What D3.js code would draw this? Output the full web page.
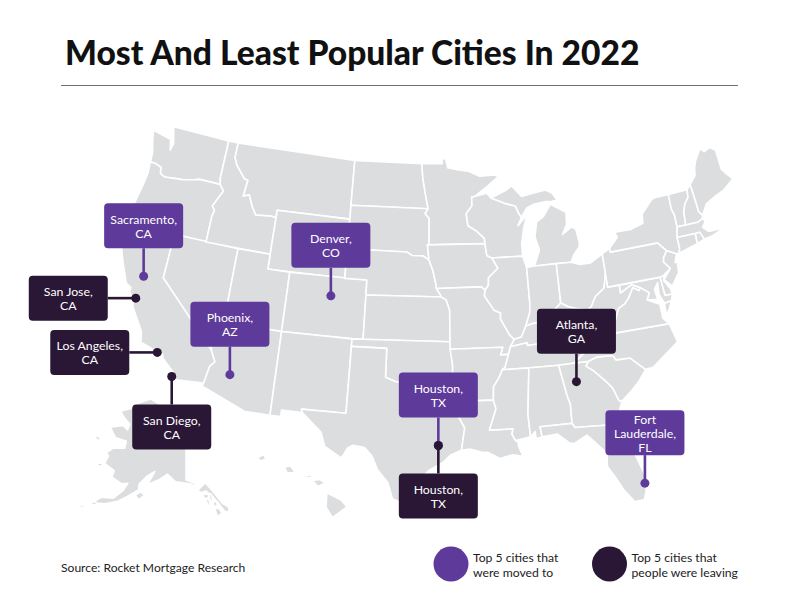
<!DOCTYPE html>
<html>
<head>
<meta charset="utf-8">
<script src="https://d3js.org/d3.v7.min.js"></script>
<style>
  body { margin: 0; background: #fff; }
  text { font-family: Lato, "Noto Sans", sans-serif; }
</style>
</head>
<body>
<div id="div_chart"></div>
<script>
// cities shown on the map
const cities = ["Sacramento,\nCA", "San Jose,\nCA", "Los Angeles,\nCA", "San Diego,\nCA", "Phoenix,\nAZ",
  "Denver,\nCO", "Houston,\nTX", "Houston,\nTX", "Atlanta,\nGA", "Fort\nLauderdale,\nFL"];
const cityLon = [-121.7, -121.85, -118.95, -117.35, -112.75, -105.15, -95.65, -95.65, -84.3, -80.15];
const cityLat = [38.75, 37.2, 34.05, 32.7, 33.6, 39.75, 30.05, 30.05, 33.75, 26.3];
const cityGroup = ["to", "from", "from", "from", "to", "to", "to", "from", "from", "to"];
const citySide = ["above", "left", "left", "below", "above", "above", "above", "below", "above", "above"];

// legend
const legendGroups = ["to", "from"];
const legendLines = [["Top 5 cities that", "were moved to"], ["Top 5 cities that", "people were leaving"]];

// state borders that are shared, [lon, lat]
const stCroix = [[-92.01,46.71],[-92.29,46.66],[-92.29,46.1],[-92.88,45.57],[-92.75,44.75]];
const mWiMn = [[-92.75,44.75],[-92.0,44.4],[-91.25,43.85],[-91.22,43.5]];
const mWiIa = [[-91.22,43.5],[-91.1,42.7],[-90.64,42.51]];
const mIlIa = [[-90.64,42.51],[-90.15,41.8],[-91.05,41.2],[-91.1,40.7],[-91.42,40.38]];
const mIlMo = [[-91.42,40.38],[-91.5,40.0],[-90.7,39.0],[-90.15,38.8],[-90.2,38.4],[-89.5,37.3],[-89.13,36.98]];
const mKyMo = [[-89.13,36.98],[-89.5,36.5]];
const mTnMo = [[-89.5,36.5],[-89.7,36.0]];
const mTnAr = [[-89.7,36.0],[-90.07,35.13],[-90.3,35.0]];
const mMsAr = [[-90.3,35.0],[-90.6,34.5],[-91.1,33.9],[-91.17,33.0]];
const mMsLa = [[-91.17,33.0],[-91.0,32.4],[-91.6,31.0]];
const oIlKy = [[-89.13,36.98],[-88.5,37.1],[-88.05,37.8]];
const oInKy = [[-88.05,37.8],[-87.5,37.93],[-86.8,37.98],[-86.3,38.15],[-85.75,38.27],[-85.4,38.72],[-84.82,39.1]];
const oOhKy = [[-84.82,39.1],[-84.2,38.8],[-83.65,38.63],[-82.6,38.42]];
const oOhWv = [[-82.6,38.42],[-82.2,38.6],[-81.75,39.2],[-80.85,39.7],[-80.52,40.64]];
const moNeIa = [[-96.45,42.49],[-96.1,41.8],[-95.85,41.0],[-95.77,40.58]];
const moNeMo = [[-95.77,40.58],[-95.31,40.0]];
const moKsMo = [[-95.31,40.0],[-94.9,39.8],[-94.61,39.11]];
const waOr = [[-116.92,45.99],[-118.98,46.0],[-119.3,45.93],[-120.5,45.7],[-121.2,45.65],[-122.3,45.55],[-122.8,45.7],[-122.9,46.1],[-123.45,46.25],[-124.05,46.27]];
const idOr = [[-117.03,42.0],[-117.03,43.8],[-116.9,44.2],[-117.2,44.45],[-116.85,45.0],[-116.46,45.6],[-116.92,45.99]];
const idMt = [[-116.05,49],[-116.05,48.0],[-115.7,47.5],[-114.7,46.7],[-114.35,46.65],[-114.5,45.55],[-113.95,45.7],[-113.45,44.95],[-113.0,44.45],[-111.5,44.55],[-111.05,44.48]];
const caAz = [[-114.63,35.0],[-114.15,34.27],[-114.5,33.9],[-114.72,32.72]];
const redRiver = [[-94.48,33.64],[-95.5,33.9],[-96.5,33.8],[-97.2,33.85],[-98.0,34.1],[-99.2,34.3],[-100,34.56]];
const savannah = [[-83.1,35],[-83.35,34.7],[-82.75,34.3],[-81.9,33.5],[-81.45,33],[-81.1,32.1],[-80.87,32.03]];
const potomac = [[-77.72,39.32],[-77.0,38.85],[-77.3,38.4]];
const rev = a => a.slice().reverse();

// lower 48, one ring per state
const WA = [[-124.7,48.38],[-123.0,48.15],[-122.75,48.1],[-122.5,47.4],[-122.35,47.9],[-122.8,49],[-117.03,49],[-117.04,46.42],...waOr,[-124.1,46.9],[-124.4,47.6]];
const OR = [...waOr,[-123.95,45.5],[-124.1,44.5],[-124.4,43.0],[-124.55,42.84],[-124.21,42],[-120,42],...idOr];
const CA = [[-124.21,42],[-120,42],[-120,39],...caAz,[-117.12,32.53],[-117.3,33.0],[-118.4,33.75],[-118.5,34.03],[-119.2,34.15],[-120.47,34.45],[-120.65,35.15],[-121.9,36.6],[-122.0,36.95],[-122.5,37.5],[-122.5,37.8],[-123.0,38.0],[-123.8,39.3],[-124.35,40.3],[-124.1,41.0]];
const NV = [[-120,42],[-114.04,42],[-114.04,36.2],[-114.75,36.1],[-114.63,35],[-120,39]];
const ID = [[-117.03,49],...idMt,[-111.05,42],...idOr,[-117.04,46.42]];
const MT = [[-116.05,49],[-104.05,49],[-104.05,45],[-111.05,45],...rev(idMt)];
const WY = [[-111.05,45],[-104.05,45],[-104.05,41],[-111.05,41]];
const UT = [[-114.04,42],[-111.05,42],[-111.05,41],[-109.05,41],[-109.05,37],[-114.04,37]];
const CO = [[-109.05,41],[-102.05,41],[-102.05,37],[-109.05,37]];
const AZ = [[-114.04,37],[-109.05,37],[-109.05,31.33],[-111.07,31.33],[-114.81,32.5],...rev(caAz),[-114.75,36.1],[-114.04,36.2]];
const NM = [[-109.05,37],[-103,37],[-103.04,32],[-106.62,32],[-106.53,31.78],[-108.2,31.78],[-108.2,31.33],[-109.05,31.33]];
const ND = [[-104.05,49],[-97.23,49],[-97.1,48],[-96.85,47],[-96.56,45.94],[-104.05,45.94]];
const SD = [[-104.05,45.94],[-96.56,45.94],[-96.85,45.6],[-96.45,45.3],[-96.45,43.5],[-96.6,43.5],[-96.45,42.49],[-97,42.75],[-98,42.77],[-98.5,43],[-104.05,43]];
const NE = [[-104.05,43],[-98.5,43],[-98,42.77],[-97,42.75],...moNeIa,...moNeMo,[-102.05,40],[-102.05,41],[-104.05,41]];
const KS = [[-102.05,40],...moKsMo,[-94.62,37],[-102.05,37]];
const OK = [[-103,37],[-94.62,37],[-94.43,35.4],...redRiver,[-100,36.5],[-103,36.5]];
const TX = [[-103,36.5],[-100,36.5],...rev(redRiver),[-94.04,33.55],[-94.04,32],[-93.55,31.2],[-93.7,30.5],[-93.85,29.7],[-94.7,29.4],[-95.3,28.9],[-96.4,28.35],[-97.2,27.6],[-97.4,26.9],[-97.15,25.96],[-98.2,26.05],[-99.1,26.4],[-99.5,27.5],[-100.3,28.3],[-100.8,29.25],[-101.4,29.77],[-102.3,29.88],[-102.7,29.7],[-103.15,28.98],[-104.5,29.65],[-104.9,30.6],[-106.53,31.78],[-106.62,32],[-103.04,32]];
const MN = [[-97.23,49],[-95.15,49],[-95.15,49.38],[-94.8,49.3],[-94.6,48.72],[-93.5,48.55],[-92.5,48.45],[-91.4,48.07],[-90,48.1],[-89.5,48],[-90.8,47.3],...stCroix,...mWiMn.slice(1),[-96.45,43.5],[-96.45,45.3],[-96.85,45.6],[-96.56,45.94],[-96.85,47],[-97.1,48]];
const IA = [[-96.6,43.5],...mWiIa,...mIlIa.slice(1),[-91.73,40.61],[-95.77,40.58],...rev(moNeIa).slice(1)];
const MO = [[-95.77,40.58],[-91.73,40.61],...mIlMo,...mKyMo.slice(1),...mTnMo.slice(1),[-90.37,36],[-90.15,36.5],[-94.62,36.5],[-94.62,37],...rev(moKsMo),[-95.77,40.58]];
const AR = [[-94.62,36.5],[-90.15,36.5],[-90.37,36],...mTnAr,...mMsAr.slice(1),[-94.04,33],[-94.04,33.55],[-94.48,33.64],[-94.43,35.4]];
const LA = [[-94.04,33],...mMsLa,[-89.73,31],[-89.85,30.65],[-89.6,30.2],[-89.4,30.05],[-89.4,29.8],[-89.1,29.1],[-89.9,29.25],[-90.9,29.05],[-91.8,29.5],[-92.3,29.55],[-93.2,29.77],[-93.85,29.7],[-93.7,30.5],[-93.55,31.2],[-94.04,32]];
const WI = [[-92.01,46.71],[-90.8,46.9],[-90.4,46.55],[-89.1,46.13],[-88.1,45.9],[-87.8,45.35],[-87.6,45.1],[-88.0,44.55],[-87.05,45.25],[-87.5,44.3],[-87.8,43.3],[-87.8,42.49],...rev(mWiIa),...rev(mWiMn).slice(1),...rev(stCroix).slice(1)];
const MIU = [[-90.4,46.55],[-89.1,46.13],[-88.1,45.9],[-87.8,45.35],[-87.6,45.1],[-87.0,45.7],[-86.3,45.9],[-85,46],[-84.7,45.95],[-84,46],[-84.4,46.5],[-85,46.77],[-86.1,46.67],[-87.4,46.5],[-88.4,47.37],[-87.9,47.47],[-88.9,47]];
const MIL = [[-86.8,41.76],[-84.8,41.76],[-83.45,41.73],[-83.1,42.2],[-82.5,42.7],[-82.45,43],[-82.6,43.9],[-83,44.07],[-83.9,43.65],[-83.4,44.3],[-83.3,45.1],[-84.7,45.78],[-85.5,45],[-86.2,44.7],[-86.5,43.7],[-86.2,42.8]];
const IL = [[-90.64,42.51],[-87.8,42.49],[-87.53,41.7],[-87.53,39.35],[-87.6,38.7],...rev(oIlKy),...rev(mIlMo).slice(1),...rev(mIlIa).slice(1)];
const IN = [[-87.53,41.7],[-86.8,41.76],[-84.8,41.76],...rev(oInKy),[-87.6,38.7],[-87.53,39.35]];
const OH = [[-84.8,41.76],[-83.45,41.73],[-82.7,41.5],[-81.7,41.5],[-80.52,41.98],...rev(oOhWv),...rev(oOhKy).slice(1)];
const KY = [...oIlKy,...oInKy.slice(1),...oOhKy.slice(1),[-82.6,38.15],[-81.97,37.54],[-83.67,36.6],[-88.07,36.5],[-88.07,36.68],[-89.5,36.5]];
const TN = [[-89.7,36],[-89.5,36.5],[-88.07,36.68],[-88.07,36.5],[-83.67,36.6],[-81.68,36.59],[-82,36.1],[-83.1,35.75],[-84.3,35],[-85.6,34.98],[-88.2,35],...rev(mTnAr)];
const MS = [[-90.3,35],[-88.2,35],[-88.1,34.9],[-88.47,31.9],[-88.4,30.37],[-89.6,30.2],[-89.85,30.65],[-89.73,31],...rev(mMsLa),...rev(mMsAr).slice(1)];
const AL = [[-88.2,35],[-85.6,34.98],[-85.18,32.87],[-85,32.3],[-85.05,31],[-87.6,31],[-87.5,30.3],[-88,30.23],[-88,30.7],[-88.4,30.37],[-88.47,31.9],[-88.1,34.9]];
const GA = [[-85.6,34.98],...savannah,[-81.4,31],[-81.45,30.7],[-82.05,30.36],[-82.2,30.57],[-84.86,30.7],[-85.05,31],[-85,32.3],[-85.18,32.87]];
const FL = [[-87.6,31],[-85.05,31],[-84.86,30.7],[-82.2,30.57],[-82.05,30.36],[-81.45,30.7],[-81.3,29.9],[-80.55,28.4],[-80.03,26.8],[-80.15,25.75],[-80.4,25.2],[-81.1,25.15],[-81.8,26.1],[-82.2,26.9],[-82.75,27.8],[-82.65,28.7],[-83.4,29.5],[-84,30.1],[-85,29.65],[-85.4,29.7],[-86.3,30.4],[-87.5,30.3]];
const SC = [[-83.1,35],[-82.4,35.2],[-81.05,35.15],[-80.8,34.82],[-79.67,34.8],[-78.55,33.86],[-79.2,33.2],[-80,32.6],...rev(savannah)];
const NC = [[-84.3,35],[-83.1,35.75],[-82,36.1],[-81.68,36.59],[-75.87,36.55],[-75.5,35.25],[-76.5,34.7],[-77.9,33.9],[-78.55,33.86],[-79.67,34.8],[-80.8,34.82],[-81.05,35.15],[-82.4,35.2],[-83.1,35]];
const VA = [[-83.67,36.6],[-81.97,37.54],[-81.3,37.3],[-80.3,37.5],[-79.9,38.2],[-79.3,38.42],[-78.87,38.77],[-78.35,39.4],[-77.83,39.13],...potomac,[-76.3,37.95],[-76.3,37],[-75.87,36.55],[-81.68,36.59]];
const VAE = [[-75.25,38.03],[-75.9,37.95],[-75.95,37.15],[-75.6,37.5]];
const WV = [[-82.6,38.42],[-82.2,38.6],[-81.75,39.2],[-80.85,39.7],[-80.52,40.64],[-80.52,39.72],[-79.48,39.72],[-79.48,39.2],[-78.4,39.6],[-77.72,39.32],[-77.83,39.13],[-78.35,39.4],[-78.87,38.77],[-79.3,38.42],[-79.9,38.2],[-80.3,37.5],[-81.3,37.3],[-81.97,37.54],[-82.6,38.15]];
const MD = [[-79.48,39.72],[-75.79,39.72],[-75.7,38.46],[-75.05,38.45],[-75.25,38.03],[-75.9,37.95],[-76.2,38.6],[-76.1,39.4],[-76.5,39],[-76.4,38.3],...rev(potomac),[-78.4,39.6],[-79.48,39.2]];
const DE = [[-75.79,39.72],[-75.42,39.8],[-75.55,39.45],[-75.1,38.8],[-75.05,38.45],[-75.7,38.46]];
const PA = [[-80.52,41.98],[-79.76,42.27],[-79.76,42],[-75.35,42],[-74.7,41.36],[-75.1,40.95],[-75.2,40.65],[-74.72,40.15],[-75.42,39.8],[-75.79,39.72],[-80.52,39.72],[-80.52,40.64]];
const NJ = [[-74.7,41.36],[-73.9,41],[-74.2,40.45],[-74,40.45],[-74.1,39.75],[-74.9,38.95],[-75.5,39.5],[-74.72,40.15],[-75.2,40.65],[-75.1,40.95]];
const NY = [[-79.76,42.27],[-78.9,42.9],[-79.05,43.27],[-77.5,43.25],[-76.3,43.5],[-76.2,44.1],[-75,44.95],[-74.7,45],[-73.35,45],[-73.4,44],[-73.25,43.6],[-73.27,42.75],[-73.5,42.05],[-73.5,41.3],[-73.66,41],[-73.9,41],[-74.7,41.36],[-75.35,42],[-79.76,42]];
const VT = [[-73.35,45],[-71.5,45.01],[-71.6,44.5],[-72.05,44.1],[-72.33,43.6],[-72.45,42.73],[-73.27,42.75],[-73.25,43.6],[-73.4,44]];
const NH = [[-71.5,45.01],[-71.08,45.3],[-71,44],[-70.98,43.4],[-70.7,43.07],[-70.82,42.87],[-71.3,42.7],[-72.45,42.73],[-72.33,43.6],[-72.05,44.1],[-71.6,44.5]];
const ME = [[-71.08,45.3],[-70.4,45.8],[-70.25,46.3],[-70,46.7],[-69.23,47.46],[-68.9,47.18],[-68.3,47.35],[-67.79,47.07],[-67.79,45.7],[-67.45,45.3],[-67,44.85],[-68.2,44.3],[-69,44.1],[-70.1,43.75],[-70.7,43.07],[-70.98,43.4],[-71,44]];
const MA = [[-73.5,42.05],[-73.27,42.75],[-72.45,42.73],[-71.3,42.7],[-70.82,42.87],[-70.6,42.65],[-71,42.3],[-70.6,41.95],[-70.3,41.9],[-69.1,41.9],[-70,41.65],[-70.6,41.55],[-71.12,41.5],[-71.38,42.02],[-71.8,42.02]];
const RI = [[-71.8,42.02],[-71.38,42.02],[-71.12,41.5],[-71.86,41.32]];
const CT = [[-73.5,42.05],[-71.8,42.02],[-71.86,41.32],[-73.66,41],[-73.5,41.3]];

// Alaska and its islands
const AK = [[-141,69.65],[-141,60.3],[-139,59.9],[-137.5,58.9],[-135.5,59.8],[-133.5,58.4],[-131.5,56.6],[-130,55.9],[-130.2,55.2],[-131.2,55.4],[-132.4,56.6],[-133.9,57.8],[-135.5,58.6],[-136.9,58.4],[-139.5,59.7],[-144,60],[-146.5,61],[-148.5,60.2],[-151.8,59.2],[-150.3,61.2],[-152.5,60.3],[-154.2,59],[-154,58.2],[-156.5,57],[-158.5,56],[-161.5,55.1],[-164.8,54.6],[-163,55.8],[-160,56.2],[-158,57.7],[-157.3,58.8],[-159,58.5],[-162,59],[-162,60],[-165.3,60.5],[-165,61.7],[-166,62],[-164.5,63],[-161,63.5],[-161.2,64.5],[-165,64.5],[-168,65.6],[-164,66.5],[-162,66.1],[-161.8,67],[-164.5,67.6],[-166.8,68.3],[-163,69.3],[-161,70.3],[-156.6,71.35],[-152,70.8],[-147,70.2]];
const KODIAK = [[-154.6,57.4],[-153.3,58],[-152.2,57.6],[-153.5,56.8]];
const NUNIVAK = [[-167.3,60.2],[-166,60.4],[-165.6,60],[-166.8,59.85]];
const STLAWRENCE = [[-171.6,63.6],[-170,63.7],[-168.8,63.2],[-170.5,63.2]];
const PRIBILOF = [[-170.6,57.1],[-169.9,57.3],[-169.7,57.05]];
const STMATTHEW = [[-173,60.5],[-172.3,60.6],[-172.5,60.2]];
const UNIMAK = [[-165,54.7],[-164,54.9],[-163.4,54.7],[-164.5,54.3]];
const UNALASKA = [[-167.8,53.4],[-166.3,54],[-166.2,53.6],[-167.3,53.3]];
const UMNAK = [[-169,52.9],[-168,53.5],[-167.9,53.2],[-168.7,52.8]];
const ATKA = [[-170.6,52.4],[-170,52.8],[-169.7,52.6],[-170.3,52.4]];
const POW = [[-133.6,55.9],[-132.6,56],[-131.9,55.2],[-133.2,54.8]];
const BARANOF = [[-135.7,57.3],[-134.9,57.5],[-134.7,56.3],[-135.3,56.6]];
const CHICHAGOF = [[-136.4,58.1],[-135,58.2],[-134.9,57.6],[-136,57.5]];
const ADMIRALTY = [[-134.7,58.1],[-134.1,58.1],[-133.9,57.2],[-134.6,57.1]];
const KUPREANOF = [[-133.9,56.9],[-133,57],[-132.8,56.4],[-133.7,56.2]];

// Hawaii
const BIGISLAND = [[-155.9,20.25],[-155.1,19.85],[-154.8,19.5],[-155.6,18.95],[-155.95,19.5]];
const MAUI = [[-156.7,20.9],[-156.3,20.95],[-156,20.75],[-156.4,20.58]];
const MOLOKAI = [[-157.3,21.1],[-156.75,21.2],[-156.75,21.05],[-157.25,21.05]];
const OAHU = [[-158.25,21.55],[-157.95,21.7],[-157.65,21.3],[-158.1,21.3]];
const KAUAI = [[-159.75,22.1],[-159.4,22.23],[-159.3,22],[-159.6,21.9]];
const NIIHAU = [[-160.25,21.95],[-160.1,22],[-160.1,21.85]];

const lower48Rings = [WA, OR, CA, NV, ID, MT, WY, UT, CO, AZ, NM, ND, SD, NE, KS, OK, TX, MN, IA, MO, AR, LA,
  WI, MIU, MIL, IL, IN, OH, KY, TN, MS, AL, GA, FL, SC, NC, VA, VAE, WV, MD, DE, PA, NJ, NY, VT, NH, ME, MA, RI, CT];
const alaskaRings = [AK, KODIAK, NUNIVAK, STLAWRENCE, PRIBILOF, STMATTHEW, UNIMAK, UNALASKA, UMNAK, ATKA, POW, BARANOF, CHICHAGOF, ADMIRALTY, KUPREANOF];
const hawaiiRings = [BIGISLAND, MAUI, MOLOKAI, OAHU, KAUAI, NIIHAU];

// colours for the two groups
const groupColor = d3.scaleOrdinal().domain(legendGroups).range(["#5e3a9b", "#2a1735"]);

// box around a city name
const boxW = 79, boxH = 45, stem = 28;

const svg = d3.select("#div_chart")
  .append("svg")
    .attr("width", 800)
    .attr("height", 595);

svg.append("text")
  .attr("x", 65)
  .attr("y", 65)
  .attr("font-size", 33.6)
  .attr("font-weight", 900)
  .attr("fill", "#111")
  .text("Most And Least Popular Cities In 2022");

svg.append("line")
  .attr("x1", 61).attr("x2", 738)
  .attr("y1", 85.5).attr("y2", 85.5)
  .attr("stroke", "#6f6f6f")
  .attr("stroke-width", 1);

// the map, lower 48 plus two insets of their own
const projection = d3.geoAlbersUsa()
  .scale(848)
  .translate([427, 316.5]);

const alaskaProjection = d3.geoConicEqualArea()
  .rotate([141, 0])
  .center([0, 60])
  .parallels([55, 65])
  .scale(400)
  .translate([186, 482]);

const hawaiiProjection = d3.geoConicEqualArea()
  .rotate([157, 0])
  .center([0, 20.5])
  .parallels([8, 18])
  .scale(1100)
  .translate([307, 488]);

const ringPath = d3.line()
  .curve(d3.curveLinearClosed);

function drawRings(rings, proj) {
  svg.append("g")
    .selectAll("path")
    .data(rings)
    .join("path")
      .attr("d", d => ringPath(d.map(p => proj(p)).filter(p => p)))
      .attr("fill", "#dcddde")
      .attr("stroke", "#fff")
      .attr("stroke-width", 1.6)
      .attr("stroke-linejoin", "round");
}

drawRings(lower48Rings, projection);
drawRings(alaskaRings, alaskaProjection);
drawRings(hawaiiRings, hawaiiProjection);

// pins and their labels
const pins = cities.map((name, i) => {
  const [x, y] = projection([cityLon[i], cityLat[i]]);
  return {name, x, y, group: cityGroup[i], side: citySide[i]};
});

const boxX = d => d.side == "left" ? d.x - stem - boxW : d.x - boxW / 2;
const boxY = d => d.side == "left" ? d.y - boxH / 2 : d.side == "above" ? d.y - stem - boxH : d.y + stem;

const pin = svg.append("g")
  .selectAll("g")
  .data(pins)
  .join("g");

pin.append("line")
  .attr("x1", d => d.x)
  .attr("y1", d => d.y)
  .attr("x2", d => d.side == "left" ? d.x - stem : d.x)
  .attr("y2", d => d.side == "above" ? d.y - stem : d.side == "below" ? d.y + stem : d.y)
  .attr("stroke", d => groupColor(d.group))
  .attr("stroke-width", 2.6);

pin.append("circle")
  .attr("cx", d => d.x)
  .attr("cy", d => d.y)
  .attr("r", 4.5)
  .attr("fill", d => groupColor(d.group));

pin.append("rect")
  .attr("x", boxX)
  .attr("y", boxY)
  .attr("width", boxW)
  .attr("height", boxH)
  .attr("rx", 4)
  .attr("fill", d => groupColor(d.group));

pin.append("text")
  .attr("text-anchor", "middle")
  .attr("font-size", 12.3)
  .attr("fill", "#fff")
  .selectAll("tspan")
  .data(d => d.name.split("\n").map((t, i, all) => ({t, d, i, n: all.length})))
  .join("tspan")
    .attr("x", e => boxX(e.d) + boxW / 2)
    .attr("y", e => boxY(e.d) + boxH / 2 + 5 + (e.i - (e.n - 1) / 2) * 14)
    .text(e => e.t);

// footer
svg.append("text")
  .attr("x", 61)
  .attr("y", 572)
  .attr("font-size", 12.1)
  .attr("fill", "#222")
  .text("Source: Rocket Mortgage Research");

const legend = svg.append("g")
  .selectAll("g")
  .data(legendGroups)
  .join("g")
    .attr("transform", (d, i) => `translate(${451 + i * 158.5},564)`);

legend.append("circle")
  .attr("r", 17.5)
  .attr("fill", d => groupColor(d));

legend.append("text")
  .attr("font-size", 12.2)
  .attr("fill", "#222")
  .selectAll("tspan")
  .data((d, i) => legendLines[i])
  .join("tspan")
    .attr("x", 22)
    .attr("y", (d, i) => -2 + i * 14.5)
    .text(d => d);
</script>
</body>
</html>
